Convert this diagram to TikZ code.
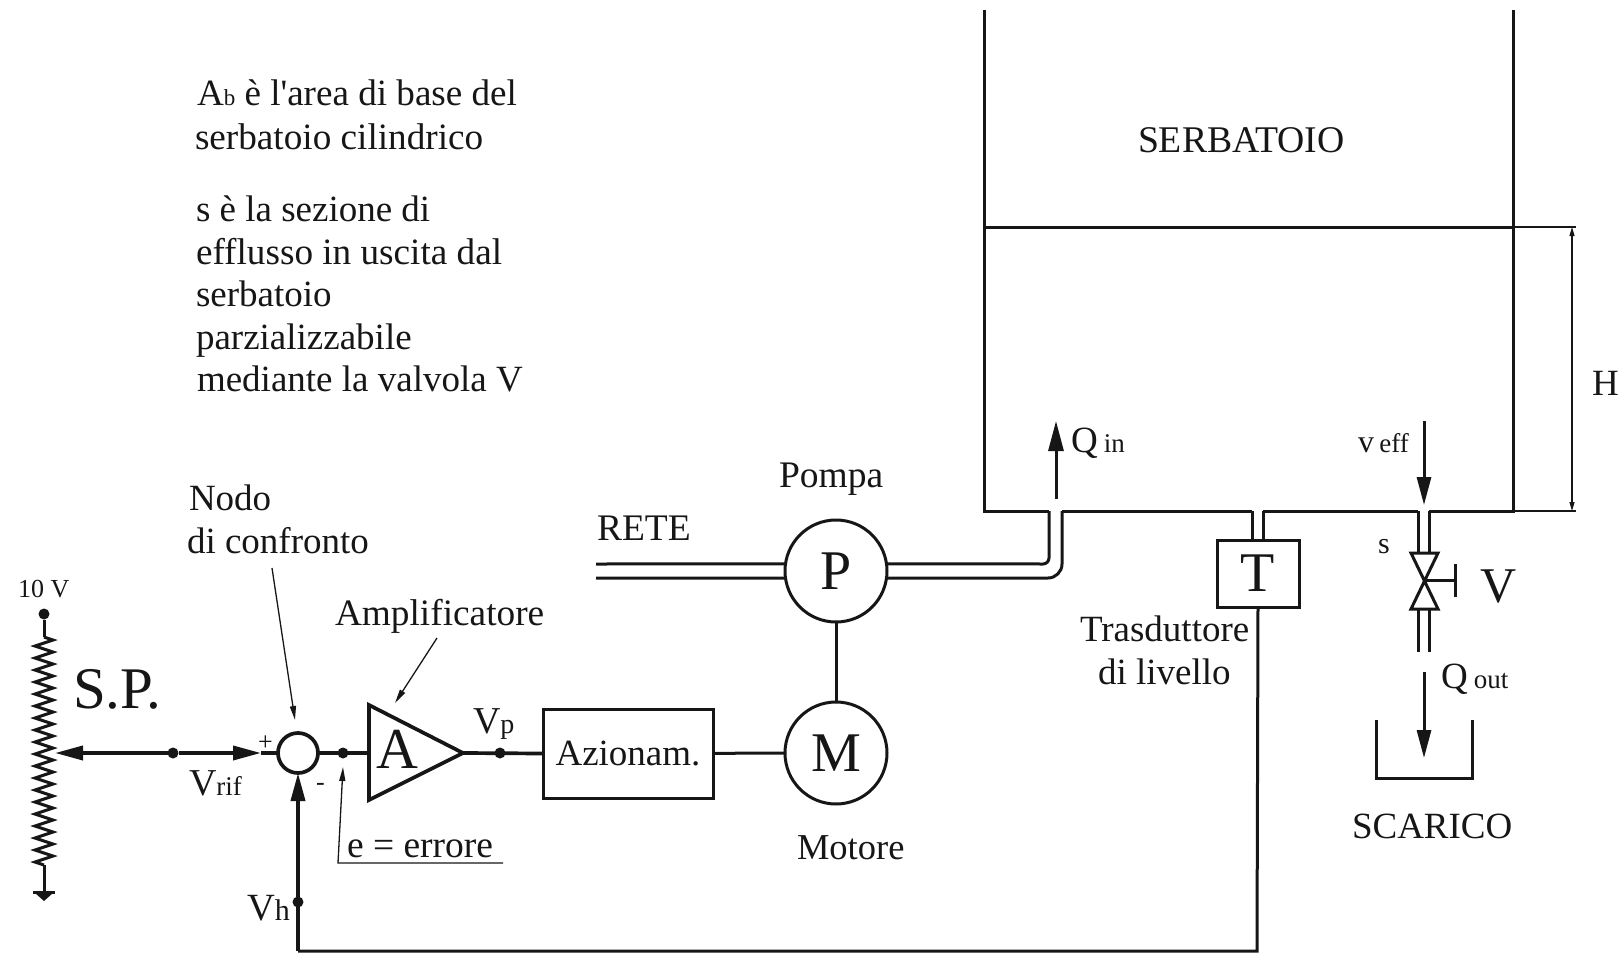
\documentclass[tikz,border=0pt]{standalone}
\usepackage{fontspec}
\setmainfont{Liberation Serif}
\newfontfamily\plainfam{Liberation Serif}
\usetikzlibrary{arrows.meta,decorations.pathmorphing,calc}
\definecolor{ink}{HTML}{161616}
\newcommand{\fsz}[1]{\fontsize{#1pt}{#1pt}\selectfont}
\newcommand{\lab}[5]{\node[txt] (#1) at (#2,#3) {\fsz{#4}#5};}
\newcommand{\subt}[1]{{\fsz{27}#1}}
\tikzset{
  txt/.style={anchor=base west,inner sep=0pt,outer sep=0pt,text=ink},
  wire/.style={draw=ink,line width=3pt},
  heavy/.style={draw=ink,line width=3pt},
  signal/.style={draw=ink,line width=3.7pt},
  thinl/.style={draw=ink,line width=1.3pt},
  bighead/.style={-{Triangle[length=28pt,width=14pt]}},
  smallhead/.style={-{Triangle[length=14pt,width=6pt]}},
  machine/.style={circle,wire,minimum size=102pt,inner sep=0pt,outer sep=0pt,text=ink,font=\fsz{56}},
  blockbox/.style={rectangle,wire,inner sep=0pt,outer sep=0pt,text=ink},
  dotn/.style={circle,fill=ink,draw=none,minimum size=11pt,inner sep=0pt,outer sep=0pt},
}
\begin{document}
\begin{tikzpicture}[x=1pt,y=-1pt]
\useasboundingbox (0,0) rectangle (1618,953);
% named points
\coordinate (tl) at (984,10); \coordinate (tr) at (1513,10);
\coordinate (bl) at (984,511); \coordinate (br) at (1513,511);
\coordinate (levl) at (984,227); \coordinate (levr) at (1513,227);
\coordinate (in1) at (1049,511); \coordinate (in2) at (1062,511);
\coordinate (c1) at (1049,564); \coordinate (c2) at (1062,578);
\coordinate (t1) at (1252,511); \coordinate (t2) at (1263,511);
\coordinate (v1) at (1418,511); \coordinate (v2) at (1429,511);
% main nodes
\node[machine] (P) at (836,571) {P};
\node[machine] (M) at (836,753) {M};
\node[blockbox,minimum width=82pt,minimum height=67pt,font=\fsz{56}] (T) at (1258,573.5) {T};
\node[blockbox,minimum width=170pt,minimum height=89pt,font=\fsz{37}] (Az) at (628,753.5) {Azionam.};
\node[circle,signal,minimum size=40pt,inner sep=0pt,outer sep=0pt] (S) at (298,753) {};
% tank
\draw[heavy] (tl) -- (bl) -- (in1);
\draw[heavy] (tr) -- (br) -- (v2);
\draw[heavy] (in2) -- (t1);
\draw[heavy] (t2) -- (v1);
\draw[heavy] (levl) -- (levr);
% inlet pipe
\draw[wire,rounded corners=6pt] (P.8) -- (c1) -- (in1);
\draw[wire,rounded corners=14pt] (P.-8) -- (c2) -- (in2);
% rete
\coordinate (r1) at (596,564); \coordinate (r2) at (596,578);
\draw[wire] (r1) -- (P.172);
\draw[wire] (r2) -- (P.188);
\draw[wire] (P) -- (M);
\draw[wire] (Az) -- (M);
% transducer
\draw[wire] (t1) -- (1252,540);
\draw[wire] (t2) -- (1263,540);
\coordinate (fb1) at (1257,951); \coordinate (fb2) at (298,951);
\draw[wire] (T.south) -- (fb1) -- (fb2);
\node[dotn] (vh) at (298,902) {};
\draw[signal,bighead] (fb2) -- (S.south);
% valve
\coordinate (vc) at (1424,580);
\coordinate (vtl) at (1411,553); \coordinate (vtr) at (1438,553);
\coordinate (vbl) at (1411,609); \coordinate (vbr) at (1438,609);
\draw[wire] (v1) -- (1418,553);
\draw[wire] (v2) -- (1429,553);
\draw[wire,line join=miter] (vtl) -- (vtr) -- (vbl) -- (vbr) -- (vtl) -- cycle;
\coordinate (hb1) at (1455,564); \coordinate (hb2) at (1455,597); \coordinate (hm) at (1455,580);
\draw[wire] (vc) -- (hm);
\draw[wire] (hb1) -- (hb2);
\draw[wire] (1418,609) -- (1418,652);
\draw[wire] (1429,609) -- (1429,652);
% flow arrows
\coordinate (qa) at (1056,499); \coordinate (qb) at (1056,421);
\draw[wire,-{Triangle[length=30pt,width=15pt]}] (qa) -- (qb);
\coordinate (ea) at (1424,421); \coordinate (eb) at (1424,505);
\draw[wire,bighead] (ea) -- (eb);
\coordinate (oa) at (1424,672); \coordinate (ob) at (1424,758);
\draw[wire,bighead] (oa) -- (ob);
% bucket
\coordinate (s1) at (1376,720); \coordinate (s2) at (1376,778); \coordinate (s3) at (1472,778); \coordinate (s4) at (1472,720);
\draw[wire] (s1) -- (s2) -- (s3) -- (s4);
% H dimension
\coordinate (h1) at (1572,227); \coordinate (h2) at (1572,511);
\draw[thinl,{Triangle[length=9pt,width=5pt]}-{Triangle[length=9pt,width=5pt]}] (h1) -- (h2);
\draw[thinl] (levr) -- (1576,227);
\draw[thinl] (br) -- (1576,511);
% resistor
\node[dotn] (top) at (44,614) {};
\coordinate (ra) at (44,637); \coordinate (rb) at (44,865); \coordinate (gnd) at (44,893);
\draw[wire] (top) -- (ra);
\draw[wire,decorate,decoration={zigzag,segment length=12pt,amplitude=9pt}] (ra) -- (rb);
\draw[wire] (rb) -- (gnd);
\draw[wire] (33,892) -- (55,892);
\fill[ink] (35,893) -- (53,893) -- (44,901) -- cycle;
% reference line
\coordinate (wip) at (55,753); \coordinate (tipr) at (261,753);
\node[dotn] (vr) at (173,753) {};
\draw[signal,bighead] (vr) -- (wip);
\draw[signal,bighead] (vr) -- (tipr);
\draw[signal] (tipr) -- (S.west);
% amplifier
\coordinate (a1) at (369,705); \coordinate (a2) at (369,800); \coordinate (a3) at (463,753); \coordinate (ain) at (369,753);
\draw[signal,line join=miter] (a1) -- (a2) -- (a3) -- cycle;
\node[dotn] (ne) at (343,753) {};
\draw[signal] (S.east) -- (ain);
\node[dotn] (np) at (500,753) {};
\draw[signal] (a3) -- (Az.west);
% annotations
\coordinate (e0) at (503,863); \coordinate (e1) at (338,863); \coordinate (e2) at (343,767);
\draw[thinl,smallhead] (e0) -- (e1) -- (e2);
\coordinate (na) at (272,568); \coordinate (nb) at (295,720);
\draw[thinl,smallhead] (na) -- (nb);
\coordinate (ama) at (437,638); \coordinate (amb) at (395,703);
\draw[thinl,smallhead] (ama) -- (amb);
% texts
\lab{t1a}{197}{105}{37.1}{A{\fsz{23}b} è l{\plainfam\symbol{39}}area di base del}
\lab{t1b}{195}{149}{37.2}{serbatoio cilindrico}
\lab{t2a}{196}{221}{37}{s è la sezione di}
\lab{t2b}{196}{264}{37.2}{efflusso in uscita dal}
\lab{t2c}{196}{306}{37}{serbatoio}
\lab{t2d}{196}{349}{37}{parzializzabile}
\lab{t2e}{197}{391}{37}{mediante la valvola V}
\lab{nod1}{189}{510}{37}{Nodo}
\lab{nod2}{187}{553}{37}{di confronto}
\lab{amp}{335}{625}{37.3}{Amplificatore}
\lab{sp}{73}{708}{59}{S.P.}
\lab{tenv}{18}{597}{26}{10 V}
\lab{vrif}{189}{795}{38}{V\subt{rif}}
\lab{vp}{473}{733}{38}{V{\fsz{28}p}}
\lab{vhl}{247}{920}{38.5}{V{\fsz{30}h}}
\lab{err}{347}{857}{37.5}{e = errore}
\lab{plus}{258}{750}{26}{+}
\lab{minus}{316}{790}{26}{-}
\lab{aa}{376}{768}{58}{A}
\lab{rete}{597}{540}{37.5}{RETE}
\lab{pompa}{779}{487}{37.5}{Pompa}
\lab{motore}{797}{859}{36.5}{Motore}
\lab{tr1}{1080}{641}{37}{Trasduttore}
\lab{tr2}{1098}{684}{37}{di livello}
\lab{scar}{1352}{838}{37}{SCARICO}
\lab{serb}{1138}{152}{37.7}{SERBATOIO}
\lab{hh}{1592}{395}{37}{H}
\lab{qin}{1071}{452}{37}{Q\,\subt{in}}
\lab{veff}{1358}{452}{32}{v\,\subt{eff}}
\lab{qout}{1441}{688}{37}{Q\,\subt{out}}
\lab{ss}{1378}{553}{30}{s}
\lab{vv}{1480}{602}{50}{V}
\end{tikzpicture}
\end{document}
